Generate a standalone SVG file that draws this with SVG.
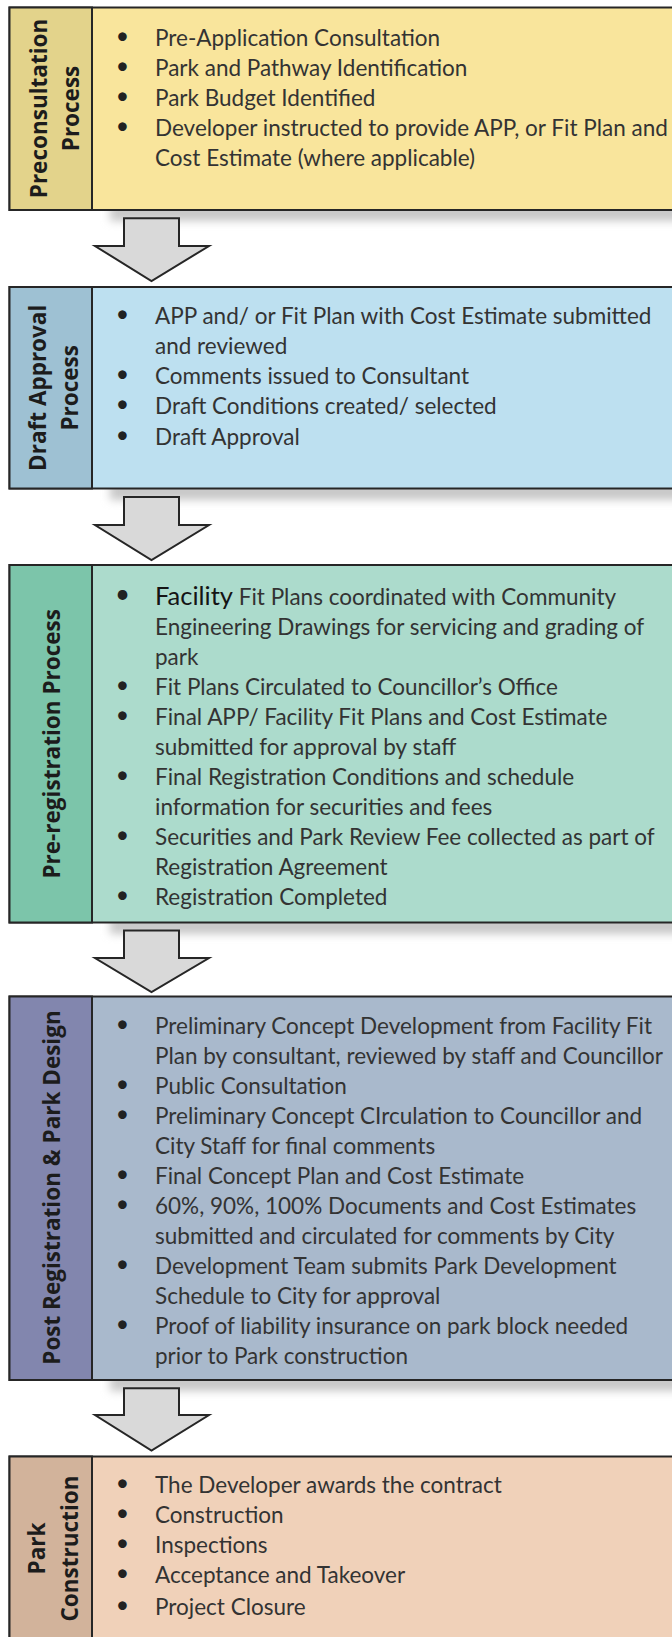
<svg xmlns="http://www.w3.org/2000/svg" width="672" height="1637" viewBox="0 0 672 1637">
<defs>
<filter id="blur" x="-20%" y="-200%" width="140%" height="500%"><feGaussianBlur stdDeviation="4"/></filter>
<style>
.box{stroke:#262626;stroke-width:2}
.lbl{font-family:"Open Sans","DejaVu Sans",sans-serif;font-weight:bold;font-size:22.5px;fill:#1c1c1c;text-anchor:middle}
.t{font-family:Lato,"Liberation Sans",sans-serif;font-size:22.5px;fill:#333333}
.bu{font-family:Lato,"Liberation Sans",sans-serif;font-size:23px;fill:#222222;text-anchor:middle}
.arrow{fill:#d9d9d9;stroke:#262626;stroke-width:2;stroke-linejoin:miter}
.sh{fill:#c8c8c8;filter:url(#blur)}
</style>
</defs>
<rect width="672" height="1637" fill="#ffffff"/>

<g id="shadows">
<rect class="sh" x="110" y="204" width="600" height="17"/>
<rect class="sh" x="110" y="483" width="600" height="17"/>
<rect class="sh" x="110" y="917" width="600" height="17"/>
<rect class="sh" x="110" y="1374" width="600" height="17"/>
</g>

<g id="preconsultation">
<rect class="box" x="9.5" y="7.5" width="680" height="202.5" fill="#f9e59c"/>
<rect class="box" x="9.5" y="7.5" width="82.5" height="202.5" fill="#e3d38b"/>
<text class="lbl" transform="translate(47,108.5) rotate(-90)">Preconsultation</text>
<text class="lbl" transform="translate(78.5,108.5) rotate(-90)">Process</text>
<text class="bu" x="122.5" y="44">•</text><text class="t" x="155" y="46">Pre-Application Consultation</text>
<text class="bu" x="122.5" y="74">•</text><text class="t" x="155" y="76">Park and Pathway Identification</text>
<text class="bu" x="122.5" y="104">•</text><text class="t" x="155" y="106">Park Budget Identified</text>
<text class="bu" x="122.5" y="134">•</text><text class="t" x="155" y="136">Developer instructed to provide APP, or Fit Plan and</text>
<text class="t" x="155" y="166">Cost Estimate (where applicable)</text>
</g>

<g id="draft-approval">
<rect class="box" x="9.5" y="287" width="680" height="201.5" fill="#bde0f0"/>
<rect class="box" x="9.5" y="287" width="82.5" height="201.5" fill="#9ec1d3"/>
<text class="lbl" transform="translate(45.5,387.8) rotate(-90)">Draft Approval</text>
<text class="lbl" transform="translate(78,387.8) rotate(-90)">Process</text>
<text class="bu" x="122.5" y="322">•</text><text class="t" x="155" y="324">APP and/ or Fit Plan with Cost Estimate submitted</text>
<text class="t" x="155" y="354">and reviewed</text>
<text class="bu" x="122.5" y="382">•</text><text class="t" x="155" y="384">Comments issued to Consultant</text>
<text class="bu" x="122.5" y="412">•</text><text class="t" x="155" y="414">Draft Conditions created/ selected</text>
<text class="bu" x="122.5" y="443">•</text><text class="t" x="155" y="445">Draft Approval</text>
</g>

<g id="pre-registration">
<rect class="box" x="9.5" y="565" width="680" height="357.5" fill="#acdbcc"/>
<rect class="box" x="9.5" y="565" width="82.5" height="357.5" fill="#7cc5aa"/>
<text class="lbl" transform="translate(60,743.8) rotate(-90)">Pre-registration Process</text>
<text class="bu" x="122.5" y="603" style="font-size:26px">•</text><text class="t" x="155" y="605"><tspan style="font-size:25.5px;fill:#141414">Facility</tspan> Fit Plans coordinated with Community</text>
<text class="t" x="155" y="635">Engineering Drawings for servicing and grading of</text>
<text class="t" x="155" y="665">park</text>
<text class="bu" x="122.5" y="693">•</text><text class="t" x="155" y="695">Fit Plans Circulated to Councillor’s Office</text>
<text class="bu" x="122.5" y="723">•</text><text class="t" x="155" y="725">Final APP/ Facility Fit Plans and Cost Estimate</text>
<text class="t" x="155" y="755">submitted for approval by staff</text>
<text class="bu" x="122.5" y="783">•</text><text class="t" x="155" y="785">Final Registration Conditions and schedule</text>
<text class="t" x="155" y="815">information for securities and fees</text>
<text class="bu" x="122.5" y="843">•</text><text class="t" x="155" y="845">Securities and Park Review Fee collected as part of</text>
<text class="t" x="155" y="875">Registration Agreement</text>
<text class="bu" x="122.5" y="903">•</text><text class="t" x="155" y="905">Registration Completed</text>
</g>

<g id="post-registration">
<rect class="box" x="9.5" y="996.5" width="680" height="383.5" fill="#a9b9cc"/>
<rect class="box" x="9.5" y="996.5" width="82.5" height="383.5" fill="#8286ae"/>
<text class="lbl" transform="translate(60,1187.5) rotate(-90)">Post Registration &amp; Park Design</text>
<text class="bu" x="122.5" y="1032">•</text><text class="t" x="155" y="1034">Preliminary Concept Development from Facility Fit</text>
<text class="t" x="155" y="1064">Plan by consultant, reviewed by staff and Councillor</text>
<text class="bu" x="122.5" y="1092">•</text><text class="t" x="155" y="1094">Public Consultation</text>
<text class="bu" x="122.5" y="1122">•</text><text class="t" x="155" y="1124">Preliminary Concept CIrculation to Councillor and</text>
<text class="t" x="155" y="1154">City Staff for final comments</text>
<text class="bu" x="122.5" y="1182">•</text><text class="t" x="155" y="1184">Final Concept Plan and Cost Estimate</text>
<text class="bu" x="122.5" y="1212">•</text><text class="t" x="155" y="1214">60%, 90%, 100% Documents and Cost Estimates</text>
<text class="t" x="155" y="1244">submitted and circulated for comments by City</text>
<text class="bu" x="122.5" y="1272">•</text><text class="t" x="155" y="1274">Development Team submits Park Development</text>
<text class="t" x="155" y="1304">Schedule to City for approval</text>
<text class="bu" x="122.5" y="1332">•</text><text class="t" x="155" y="1334">Proof of liability insurance on park block needed</text>
<text class="t" x="155" y="1364">prior to Park construction</text>
</g>

<g id="park-construction">
<rect class="box" x="9.5" y="1456.5" width="680" height="200" fill="#f0d1b9"/>
<rect class="box" x="9.5" y="1456.5" width="82.5" height="200" fill="#d2b39b"/>
<text class="lbl" transform="translate(44.5,1548.5) rotate(-90)">Park</text>
<text class="lbl" transform="translate(78,1548.5) rotate(-90)">Construction</text>
<text class="bu" x="122.5" y="1491">•</text><text class="t" x="155" y="1493">The Developer awards the contract</text>
<text class="bu" x="122.5" y="1521">•</text><text class="t" x="155" y="1523">Construction</text>
<text class="bu" x="122.5" y="1551">•</text><text class="t" x="155" y="1553">Inspections</text>
<text class="bu" x="122.5" y="1581">•</text><text class="t" x="155" y="1583">Acceptance and Takeover</text>
<text class="bu" x="122.5" y="1613">•</text><text class="t" x="155" y="1615">Project Closure</text>
</g>

<g id="connectors">
<polygon class="arrow" points="124,218.3 179,218.3 179,246 209,246 151.5,281 95,246 124,246"/>
<polygon class="arrow" points="124,497 179,497 179,525 209,525 151.5,560 95,525 124,525"/>
<polygon class="arrow" points="124,930.5 179,930.5 179,958 209,958 151.5,992 95,958 124,958"/>
<polygon class="arrow" points="124,1388.3 179,1388.3 179,1415 209,1415 151.5,1450.5 95,1415 124,1415"/>
</g>
</svg>
